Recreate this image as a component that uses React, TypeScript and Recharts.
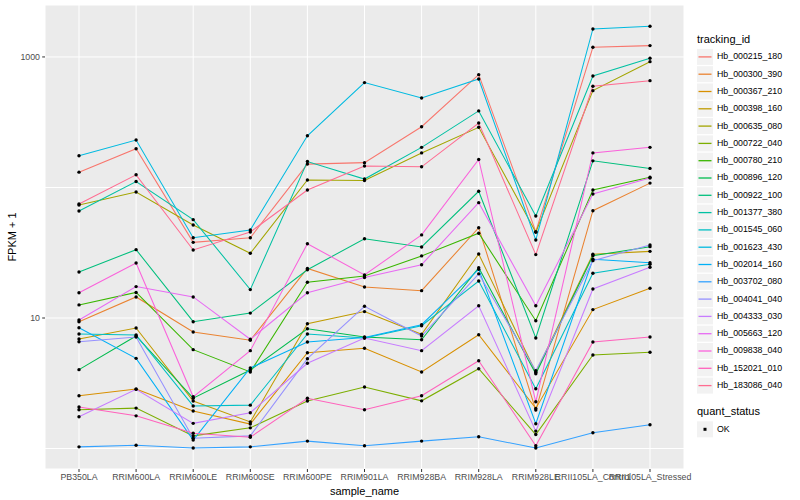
import React from "react";
import { LineChart, Line, XAxis, YAxis, CartesianGrid, Legend } from "recharts";

const categories = [
  "PB350LA", "RRIM600LA", "RRIM600LE", "RRIM600SE", "RRIM600PE", "RRIM901LA",
  "RRIM928BA", "RRIM928LA", "RRIM928LE", "RRII105LA_Control", "RRII105LA_Stressed",
];

const trackingIds = [
  "Hb_000215_180", "Hb_000300_390", "Hb_000367_210", "Hb_000398_160", "Hb_000635_080",
  "Hb_000722_040", "Hb_000780_210", "Hb_000896_120", "Hb_000922_100", "Hb_001377_380",
  "Hb_001545_060", "Hb_001623_430", "Hb_002014_160", "Hb_003702_080", "Hb_004041_040",
  "Hb_004333_030", "Hb_005663_120", "Hb_009838_040", "Hb_152021_010", "Hb_183086_040",
];

// ggplot default hue palette for 20 groups
const colors = [
  "#F8766D", "#EA8331", "#D89000", "#C09B00", "#A3A500", "#7CAE00", "#39B600",
  "#00BB4E", "#00BF7D", "#00C1A3", "#00BFC4", "#00BAE0", "#00B0F6", "#35A2FF",
  "#9590FF", "#C77CFF", "#E76BF3", "#FA62DB", "#FF62BC", "#FF6C91",
];

// FPKM + 1, one value per sample
const hb000215_180 = [131, 198, 38.0, 41.2, 151, 155, 292, 732, 45.9, 1187, 1221];
const hb000300_390 = [9.37, 14.5, 7.81, 6.75, 24.0, 17.3, 16.2, 49.2, 1.97, 66.4, 108];
const hb000367_210 = [2.54, 2.86, 1.94, 1.54, 5.42, 5.86, 3.86, 7.45, 2.03, 11.6, 16.9];
const hb000398_160 = [6.9, 8.38, 2.31, 1.6, 9.04, 11.2, 7.5, 30.9, 3.84, 30.8, 32.4];
const hb000635_080 = [73.4, 92.4, 51.6, 31.3, 114, 113, 184, 289, 45.4, 552, 920];
const hb000722_040 = [1.98, 2.04, 1.25, 1.44, 2.31, 2.96, 2.32, 4.09, 1.28, 5.21, 5.46];
const hb000780_210 = [12.6, 15.7, 5.72, 3.86, 18.8, 21.0, 29.9, 44.6, 9.54, 95.7, 120];
const hb000896_120 = [4.02, 7.28, 2.43, 4.0, 8.28, 7.15, 6.82, 24.3, 3.74, 30.0, 35.2];
const hb000922_100 = [22.5, 33.4, 9.37, 10.9, 23.4, 40.5, 35.0, 93.5, 7.03, 160, 140];
const hb001377_380 = [66.0, 111, 56.7, 16.5, 158, 116, 203, 386, 60.5, 715, 977];
const hb001545_060 = [7.54, 7.41, 2.12, 2.15, 7.54, 7.03, 8.73, 19.2, 2.87, 22.0, 25.8];
const hb001623_430 = [175, 231, 41.2, 47.3, 249, 636, 485, 678, 39.6, 1639, 1719];
const hb002014_160 = [8.43, 4.91, 1.16, 4.14, 6.55, 7.09, 8.89, 23.6, 1.55, 28.2, 26.5];
const hb003702_080 = [1.03, 1.06, 1.01, 1.03, 1.14, 1.05, 1.14, 1.23, 1.01, 1.32, 1.52];
const hb004041_040 = [6.58, 7.15, 1.2, 1.25, 4.88, 12.3, 7.28, 21.8, 3.95, 27.5, 36.3];
const hb004333_030 = [1.75, 2.84, 1.56, 1.88, 4.5, 7.03, 5.62, 12.4, 1.36, 16.7, 24.5];
const hb005663_120 = [9.65, 17.4, 14.5, 6.87, 15.6, 20.4, 25.6, 76.5, 12.4, 89.2, 118];
const hb009838_040 = [15.6, 26.4, 2.49, 5.62, 37.1, 21.4, 43.3, 164, 2.28, 184, 203];
const hb152021_010 = [2.08, 1.78, 1.31, 1.22, 2.43, 1.98, 2.54, 4.71, 1.05, 6.55, 7.15];
const hb183086_040 = [74.7, 125, 33.2, 45.6, 95.7, 146, 144, 312, 30.6, 596, 658];

const seriesValues = [
  hb000215_180, hb000300_390, hb000367_210, hb000398_160, hb000635_080,
  hb000722_040, hb000780_210, hb000896_120, hb000922_100, hb001377_380,
  hb001545_060, hb001623_430, hb002014_160, hb003702_080, hb004041_040,
  hb004333_030, hb005663_120, hb009838_040, hb152021_010, hb183086_040,
];

const yTicks = [1, 10, 100, 1000];
const yLabelled = [10, 1000];

const data = categories.map((name, i) => {
  const row: Record<string, any> = { sample_name: name };
  trackingIds.forEach((id, k) => {
    row[id] = seriesValues[k][i];
  });
  return row;
});

const font = "'Liberation Sans', Arial, sans-serif";

function YTick(props: any) {
  const { y, payload } = props;
  if (!yLabelled.includes(payload.value)) return <g />;
  return (
    <g>
      <line x1={42.2} x2={45} y1={y} y2={y} stroke="#333333" strokeWidth={1} />
      <text x={40} y={y} textAnchor="end" dominantBaseline="central" fontSize={8.8} fill="#4D4D4D">
        {payload.value}
      </text>
    </g>
  );
}

function LegendBox() {
  const step = 17.3;
  const top0 = 48.3;
  return (
    <div style={{ position: "relative", width: 110, height: 500, fontFamily: font }}>
      <div style={{ position: "absolute", left: 7, top: 33, fontSize: 11, color: "#000" }}>tracking_id</div>
      <svg style={{ position: "absolute", left: 0, top: 0 }} width={30} height={500}>
        {trackingIds.map((id, i) => {
          const y = top0 + i * step;
          return (
            <g key={id}>
              <rect x={7} y={y + 0.6} width={16} height={16} fill="#F2F2F2" />
              <line x1={8.5} x2={21.5} y1={y + 8.6} y2={y + 8.6} stroke={colors[i]} strokeWidth={1.3} />
            </g>
          );
        })}
        <rect x={7} y={421.3} width={16} height={16} fill="#F2F2F2" />
        <rect x={13.5} y={427.8} width={3} height={3} fill="#000" />
      </svg>
      {trackingIds.map((id, i) => (
        <div
          key={id}
          style={{
            position: "absolute",
            left: 27,
            top: top0 + i * step,
            lineHeight: `${step}px`,
            fontSize: 8.8,
            color: "#000",
            whiteSpace: "nowrap",
          }}
        >
          {id}
        </div>
      ))}
      <div style={{ position: "absolute", left: 7, top: 405, fontSize: 11, color: "#000" }}>quant_status</div>
      <div style={{ position: "absolute", left: 27, top: 421, lineHeight: "17.3px", fontSize: 8.8, color: "#000" }}>OK</div>
    </div>
  );
}

export default function App() {
  return (
    <div style={{ position: "absolute", left: 0, top: 0, width: 800, height: 500, background: "#fff", fontFamily: font }}>
      <LineChart width={800} height={500} data={data} margin={{ top: 5, right: 116, bottom: 0, left: 0 }}>
        <CartesianGrid fill="#EBEBEB" stroke="#FFFFFF" strokeWidth={1} />
        <XAxis
          dataKey="sample_name"
          type="category"
          interval={0}
          height={31}
          padding={{ left: 34, right: 34 }}
          axisLine={false}
          tickSize={3}
          tickMargin={2}
          tickLine={{ stroke: "#333333" }}
          tick={{ fill: "#4D4D4D", fontSize: 8.8 }}
          label={{ value: "sample_name", position: "insideBottom", offset: 5, fill: "#000", fontSize: 11 }}
        />
        <YAxis
          scale="log"
          domain={[0.697, 2500]}
          allowDataOverflow
          ticks={yTicks}
          width={45}
          axisLine={false}
          tickLine={false}
          tick={<YTick />}
          label={{
            value: "FPKM + 1",
            angle: -90,
            position: "insideLeft",
            offset: 12,
            fill: "#000",
            fontSize: 11,
            style: { textAnchor: "middle" },
          }}
        />
        {trackingIds.map((id, k) => (
          <Line
            key={id}
            dataKey={id}
            stroke={colors[k]}
            strokeWidth={1.05}
            dot={false}
            activeDot={false}
            isAnimationActive={false}
            legendType="none"
          />
        ))}
        {trackingIds.map((id) => (
          <Line
            key={id + "_pt"}
            dataKey={id}
            stroke="none"
            strokeWidth={0}
            dot={{ r: 1.7, fill: "#000000", stroke: "none" }}
            activeDot={false}
            isAnimationActive={false}
            legendType="none"
          />
        ))}
        <Legend
          layout="vertical"
          align="center"
          verticalAlign="middle"
          wrapperStyle={{ position: "absolute", left: 690, top: 0, width: 110, height: 500 }}
          content={() => <LegendBox />}
        />
      </LineChart>
    </div>
  );
}
